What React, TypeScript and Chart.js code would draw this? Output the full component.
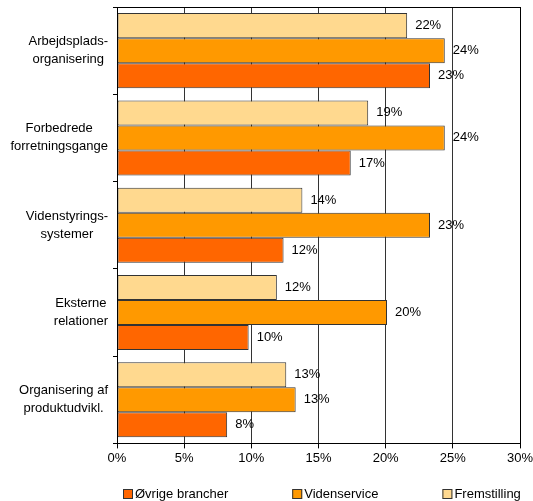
import React, { useEffect, useRef } from "react";
import { Chart, registerables } from "chart.js";
Chart.register(...registerables);

const categories: string[][] = [
  ["Arbejdsplads-", "organisering"],
  ["Forbedrede", "forretningsgange"],
  ["Videnstyrings-", "systemer"],
  ["Eksterne", "relationer"],
  ["Organisering af", "produktudvikl."],
];
const fremstilling = [21.6, 18.7, 13.8, 11.9, 12.6];
const videnservice = [24.4, 24.4, 23.3, 20.1, 13.3];
const ovrige = [23.3, 17.4, 12.4, 9.8, 8.2];
const seriesNames = ["Fremstilling", "Videnservice", "Øvrige brancher"];
const seriesColors = ["#FFD98F", "#FF9900", "#FF6600"];
const legendOrder = [2, 1, 0];
const xMin = 0;
const xMax = 30;
const xStep = 5;

const FONT = "13px 'Liberation Sans', Arial, sans-serif";

const customPlugin = {
  id: "custom",
  afterDraw(chart: any) {
    const ctx = chart.ctx;
    const area = chart.chartArea;
    const yScale = chart.scales.y;
    ctx.save();
    ctx.strokeStyle = "#000";
    ctx.lineWidth = 1;
    ctx.strokeRect(Math.round(area.left) + 0.5, Math.round(area.top) + 0.5, Math.round(area.right - area.left), Math.round(area.bottom - area.top));
    ctx.font = FONT;
    ctx.fillStyle = "#000";
    ctx.textBaseline = "middle";
    ctx.textAlign = "center";
    categories.forEach((lines, i) => {
      const y = yScale.getPixelForTick(i);
      const maxW = Math.max(...lines.map((l) => ctx.measureText(l).width));
      const cx = area.left - 9 - maxW / 2;
      const lh = 18;
      lines.forEach((l, j) => {
        ctx.fillText(l, cx, y + (j - (lines.length - 1) / 2) * lh);
      });
    });
    ctx.textAlign = "left";
    chart.data.datasets.forEach((ds: any, di: number) => {
      const meta = chart.getDatasetMeta(di);
      meta.data.forEach((bar: any, i: number) => {
        const v = ds.data[i];
        ctx.fillText(Math.round(v) + "%", bar.x + 8, bar.y);
      });
    });
    let x = area.left + 6;
    const ly = 494;
    legendOrder.forEach((si) => {
      ctx.fillStyle = seriesColors[si];
      ctx.fillRect(x, ly - 5, 10, 10);
      ctx.strokeStyle = "#333";
      ctx.strokeRect(x + 0.5, ly - 4.5, 9, 9);
      ctx.fillStyle = "#000";
      ctx.fillText(seriesNames[si], x + 12, ly);
      x += 12 + ctx.measureText(seriesNames[si]).width + 64;
    });
    ctx.restore();
  },
};

export default function App() {
  const ref = useRef<HTMLCanvasElement>(null);
  useEffect(() => {
    document.body.style.margin = "0";
    const data = {
      labels: categories.map((c) => c.join(" ")),
      datasets: [fremstilling, videnservice, ovrige].map((d, i) => ({
        label: seriesNames[i],
        data: d,
        backgroundColor: seriesColors[i],
        borderColor: "#333",
        borderWidth: 1,
        borderSkipped: false,
        categoryPercentage: 0.86,
        barPercentage: 1,
      })),
    };
    const chart = new Chart(ref.current!, {
      type: "bar",
      data,
      plugins: [customPlugin],
      options: {
        indexAxis: "y",
        animation: false,
        responsive: false,
        layout: { padding: { top: 7, right: 0, left: 0, bottom: 33 } },
        plugins: { legend: { display: false }, tooltip: { enabled: false } },
        scales: {
          x: {
            min: xMin,
            max: xMax,
            ticks: {
              stepSize: xStep,
              callback: (v: any) => v + "%",
              color: "#000",
              font: { family: "'Liberation Sans', Arial, sans-serif", size: 13 },
              padding: 2,
              maxRotation: 0,
            },
            grid: { color: "#333", tickLength: 5, tickColor: "#000" },
            border: { color: "#000" },
            afterFit: (s: any) => {
              s.paddingRight = 13;
              s.paddingLeft = 0;
            },
          },
          y: {
            ticks: { display: false },
            grid: { drawOnChartArea: false, offset: true, tickLength: 4, tickColor: "#000" },
            border: { color: "#000" },
            afterFit: (s: any) => {
              s.width = 117;
            },
          },
        },
      } as any,
    });
    return () => chart.destroy();
  }, []);
  return (
    <div style={{ width: 533, height: 501 }}>
      <canvas ref={ref} width={533} height={501} style={{ display: "block" }} />
    </div>
  );
}
